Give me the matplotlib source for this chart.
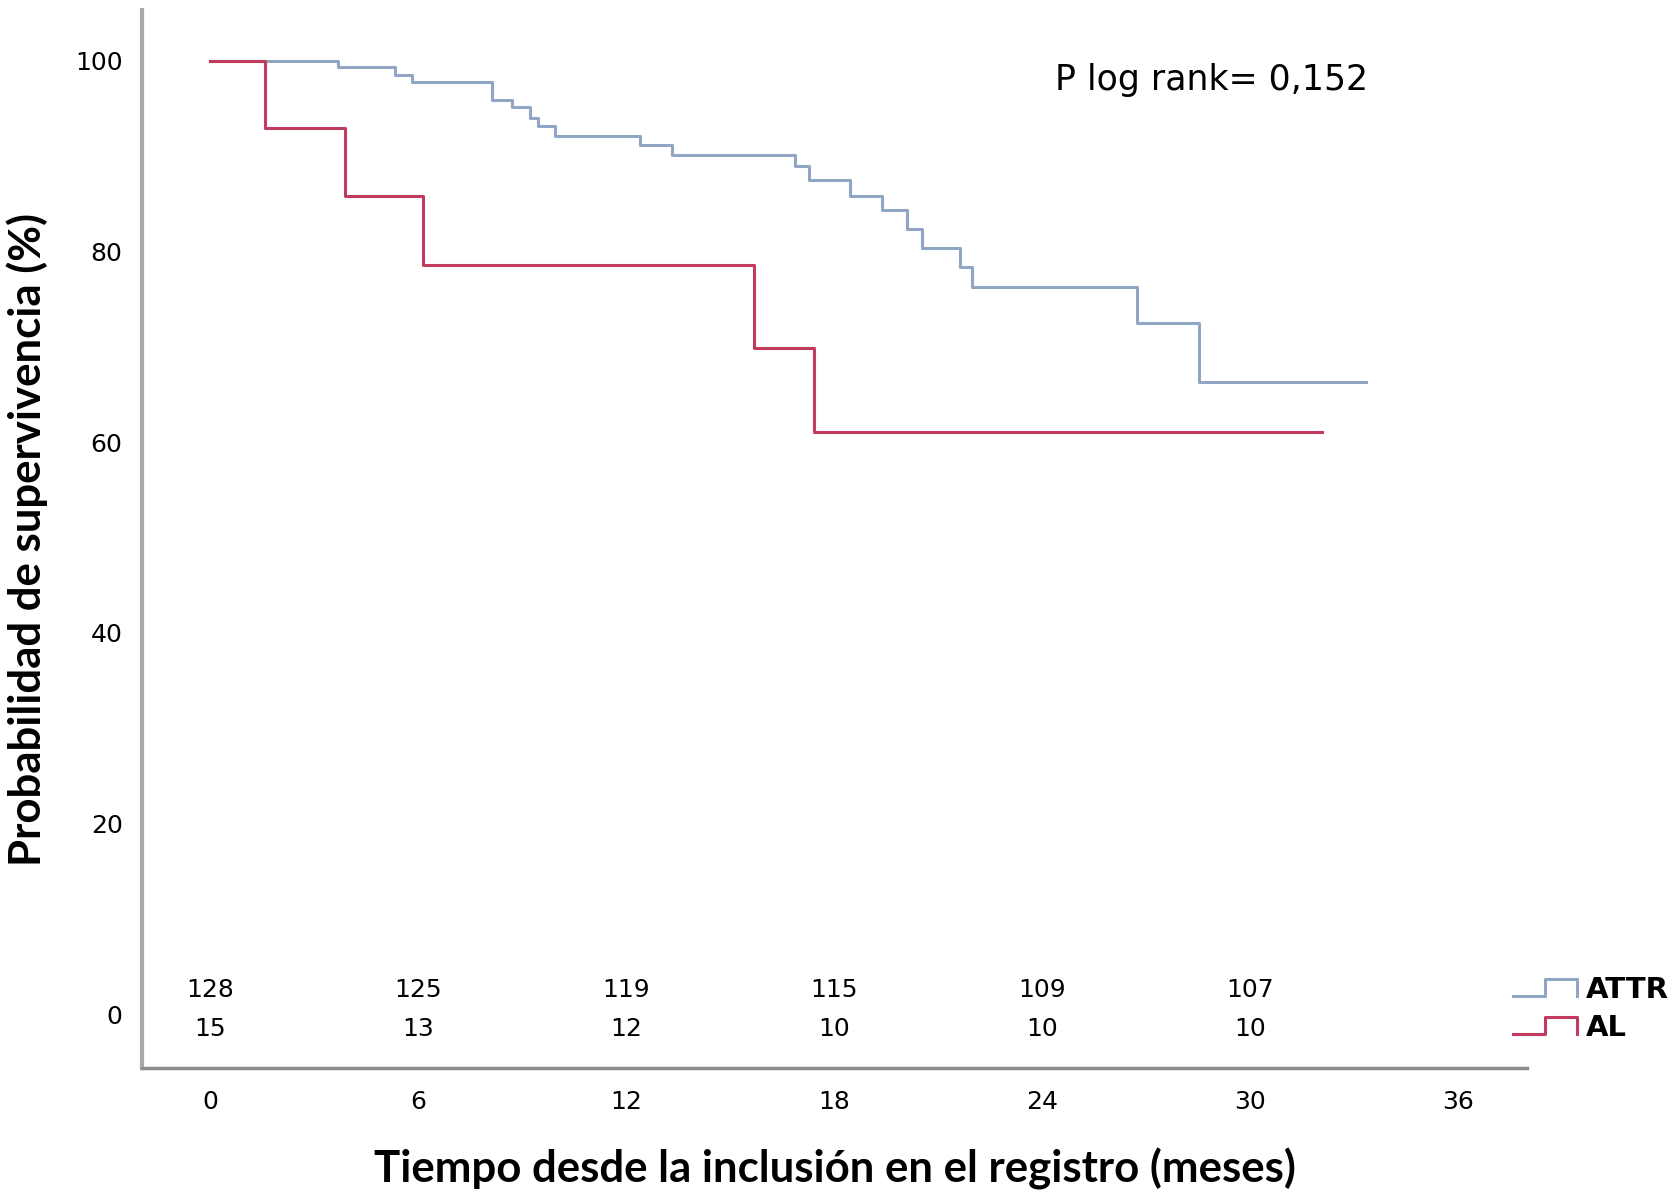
import numpy as np
import matplotlib
matplotlib.use("Agg")
import matplotlib.pyplot as plt
from matplotlib.lines import Line2D
from matplotlib.legend_handler import HandlerBase

# Kaplan-Meier steps (months, % survival)
attr_t = [0, 3.69, 5.34, 5.83, 8.13, 8.71, 9.23, 9.46, 9.95, 12.4, 13.33,
          16.87, 17.28, 18.46, 19.38, 20.1, 20.54, 21.63, 22.0, 26.75, 28.53, 33.37]
attr_s = [100, 99.3, 98.5, 97.7, 95.9, 95.1, 94.0, 93.1, 92.1, 91.2, 90.1,
          88.9, 87.5, 85.8, 84.3, 82.3, 80.4, 78.4, 76.3, 72.5, 66.3, 66.3]

al_t = [0, 1.58, 3.9, 6.15, 15.7, 17.44, 32.1]
al_s = [100, 92.9, 85.8, 78.6, 69.9, 61.1, 61.1]

# numbers at risk
risk_times = [0, 6, 12, 18, 24, 30]
risk_attr = [128, 125, 119, 115, 109, 107]
risk_al = [15, 13, 12, 10, 10, 10]

x_ticks = [0, 6, 12, 18, 24, 30, 36]
y_ticks = [0, 20, 40, 60, 80, 100]

c_attr = '#90a6c4'
c_al = '#c23b5e'
label_font = ['Lato', 'DejaVu Sans']


class StepHandler(HandlerBase):
    # legend glyph shaped like a little step
    def create_artists(self, legend, orig_handle, xdescent, ydescent,
                       width, height, fontsize, trans):
        lo = -ydescent + 0.1 * height
        hi = -ydescent + 0.95 * height
        xs = [-xdescent, -xdescent + 0.5 * width, -xdescent + 0.5 * width,
              -xdescent + width, -xdescent + width]
        ys = [lo, lo, hi, hi, lo]
        ln = Line2D(xs, ys, color=orig_handle.get_color(), lw=2.2)
        ln.set_transform(trans)
        return [ln]


fig = plt.figure(figsize=(16.75, 12.03), dpi=100)
ax = fig.add_axes([0.0848, 0.1122, 0.8268, 0.8795])

l1, = ax.step(attr_t, attr_s, where='post', color=c_attr, lw=2.2)
l2, = ax.step(al_t, al_s, where='post', color=c_al, lw=2.2)

ax.set_xlim(-1.96, 38.0)
ax.set_ylim(-5.6, 105.3)
ax.set_xticks(x_ticks)
ax.set_yticks(y_ticks)
ax.tick_params(length=0, labelsize=18)
ax.tick_params(axis='x', pad=16)
ax.tick_params(axis='y', pad=14)

for s in ['top', 'right']:
    ax.spines[s].set_visible(False)
ax.spines['left'].set_color('#a8a8a8')
ax.spines['left'].set_linewidth(3)
ax.spines['bottom'].set_color('#8c8c8c')
ax.spines['bottom'].set_linewidth(2.5)

for t, a, b in zip(risk_times, risk_attr, risk_al):
    ax.text(t, 2.6, str(a), ha='center', va='center', fontsize=18)
    ax.text(t, -1.5, str(b), ha='center', va='center', fontsize=18)

ax.text(28.9, 98.0, 'P log rank= 0,152', ha='center', va='center',
        fontsize=25, fontweight='medium')

ax.set_xlabel('Tiempo desde la inclusión en el registro (meses)',
              fontsize=31.5, fontweight='bold', family=label_font, labelpad=24)
ax.set_ylabel('Probabilidad de supervivencia (%)',
              fontsize=31.5, fontweight='bold', family=label_font)
ax.yaxis.set_label_coords(-0.068, 0.5)

fig.legend([l1, l2], ['ATTR', 'AL'], loc='center left',
           bbox_to_anchor=(0.903, 0.161), frameon=False,
           prop={'size': 21, 'weight': 'bold'},
           handler_map={Line2D: StepHandler()},
           handlelength=2.2, handletextpad=0.3, labelspacing=0.35,
           borderaxespad=0, borderpad=0)

plt.savefig('out.png', dpi=100)
